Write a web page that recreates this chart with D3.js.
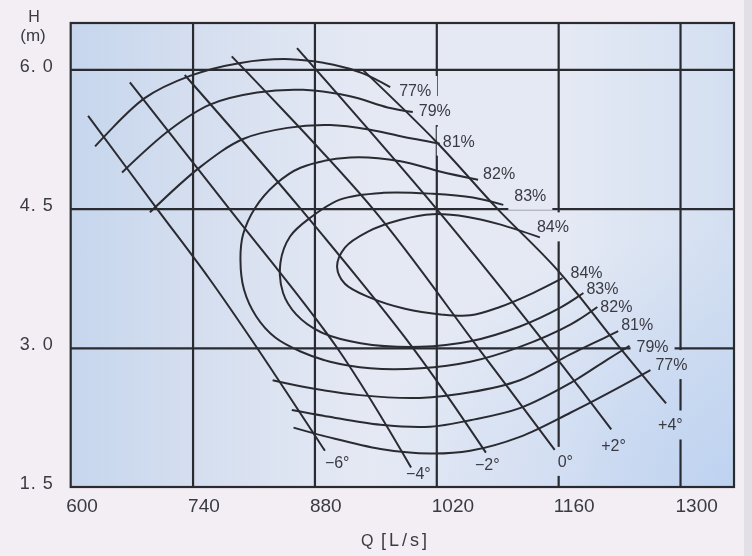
<!DOCTYPE html>
<html>
<head>
<meta charset="utf-8">
<script src="https://cdn.jsdelivr.net/npm/d3@7"></script>
<style>
    body { margin: 0; background: #f2eef4; }
    svg { display: block; font-family: "Liberation Sans", Arial, sans-serif; }
</style>
</head>
<body>
<svg id="chart" width="752" height="556"></svg>
<script>
// ---- values ----
var qTicks = [600, 740, 880, 1020, 1160, 1300];
var hTicks = [1.5, 3.0, 4.5, 6.0];
var hTickLabels = ["1. 5", "3. 0", "4. 5", "6. 0"];

// blade angle lines, Q [L/s] and H [m] along each line (top -> bottom)
var bladeLabels = ["−6°", "−4°", "−2°", "0°", "+2°", "+4°"];
var bladeQ = [
    [620, 699, 758, 814, 892],
    [668, 782, 906, 991],
    [731, 864, 993, 1077],
    [785, 947, 1068, 1156],
    [860, 1020, 1149, 1221],
    [935, 1021, 1090, 1159, 1231, 1284]
];
var bladeH = [
    [5.50, 4.50, 3.76, 3.00, 1.89],
    [5.86, 4.50, 3.00, 1.71],
    [5.94, 4.50, 3.00, 1.87],
    [6.14, 4.50, 3.00, 1.90],
    [6.23, 4.50, 3.00, 2.12],
    [6.00, 5.21, 4.50, 3.84, 3.00, 2.40]
];

// efficiency contours; each starts at its upper right end and finishes at its lower right end
var effLabels = ["77%", "79%", "81%", "82%", "83%", "84%"];
var effQ = [
    [[967, 935, 902, 852, 795, 737, 685, 628], [856, 895, 956, 1013, 1059, 1116, 1174, 1231, 1266]],
    [[993, 964, 921, 867, 814, 760, 714, 659], [854, 895, 956, 1013, 1059, 1116, 1174, 1216, 1242]],
    [[1024, 979, 944, 898, 849, 798, 749, 691], [832, 867, 932, 1001, 1059, 1116, 1174, 1216, 1229]],
    [[1068, 1024, 979, 921, 864, 835, 812, 798, 795, 799, 813, 835, 864, 898, 944, 1002, 1059, 1116, 1174, 1205]],
    [[1097, 1062, 1016, 959, 910, 875, 852, 841, 844, 859, 887, 933, 1002, 1059, 1116, 1162, 1189]],
    [[1139, 1093, 1056, 1016, 979, 941, 915, 906, 915, 944, 984, 1025, 1059, 1093, 1131, 1165]]
];
var effH = [
    [[5.81, 5.96, 6.05, 6.11, 6.07, 5.93, 5.69, 5.17], [2.14, 2.04, 1.91, 1.86, 1.89, 2.04, 2.30, 2.58, 2.76]],
    [[5.54, 5.59, 5.71, 5.78, 5.75, 5.62, 5.35, 4.89], [2.33, 2.26, 2.17, 2.15, 2.22, 2.35, 2.62, 2.87, 3.02]],
    [[5.20, 5.28, 5.35, 5.40, 5.37, 5.25, 4.95, 4.46], [2.65, 2.58, 2.49, 2.46, 2.52, 2.65, 2.93, 3.12, 3.18]],
    [[4.81, 4.90, 5.01, 5.05, 4.94, 4.76, 4.51, 4.22, 3.95, 3.63, 3.34, 3.11, 2.96, 2.85, 2.78, 2.78, 2.85, 3.01, 3.25, 3.44]],
    [[4.54, 4.62, 4.66, 4.67, 4.60, 4.40, 4.20, 3.92, 3.59, 3.36, 3.17, 3.05, 3.01, 3.07, 3.23, 3.43, 3.59]],
    [[4.19, 4.33, 4.41, 4.44, 4.38, 4.25, 4.08, 3.87, 3.69, 3.54, 3.42, 3.36, 3.35, 3.44, 3.59, 3.75]]
];

// label nudges in px (layout only)
var effUpperOff = [[9, 9], [6, 4], [3, 3], [5, -1], [11, -4], [-3, -5]];
var effLowerOff = [[5, 0], [7, 6], [3, -1], [3, 5], [3, 1], [8, 0]];
var bladeOff = [[0, 17], [-5, 11], [-11, 17], [3, 17], [-10, 22], [-8, 27]];

// ---- layout ----
var plotL = 70.7, plotR = 734, plotT = 23, plotB = 487;
var ink = "#2a2a31", textInk = "#3a3a42";

var svg = d3.select("#chart");

var x = d3.scaleLinear().domain([600, 1362]).range([plotL, plotR]);
var y = d3.scaleLinear().domain([1.5, 6.5]).range([plotB, plotT]);

var defs = svg.append("defs");
var lg = defs.append("linearGradient").attr("id", "plotBg")
    .attr("x1", 0).attr("y1", 0).attr("x2", 1).attr("y2", 0);
[[0, "#c6d6ed"], [0.18, "#d4deef"], [0.45, "#e5e9f4"], [0.75, "#e4e9f4"], [1, "#d3dff1"]].forEach(function(s) {
    lg.append("stop").attr("offset", s[0]).attr("stop-color", s[1]);
});
var rg = defs.append("radialGradient").attr("id", "plotGlow")
    .attr("cx", 1).attr("cy", 1).attr("r", 0.55);
rg.append("stop").attr("offset", 0).attr("stop-color", "#b9cff0").attr("stop-opacity", 0.8);
rg.append("stop").attr("offset", 1).attr("stop-color", "#b9cff0").attr("stop-opacity", 0);

// page edge on the far right
svg.append("rect").attr("x", 744).attr("y", 0).attr("width", 8).attr("height", 556).attr("fill", "#e2e0e6");

svg.append("rect").attr("x", plotL).attr("y", plotT).attr("width", plotR - plotL).attr("height", plotB - plotT)
    .attr("fill", "url(#plotBg)");
svg.append("rect").attr("x", plotL).attr("y", plotT).attr("width", plotR - plotL).attr("height", plotB - plotT)
    .attr("fill", "url(#plotGlow)");

// grid, masked around the curve labels
var mask = defs.append("mask").attr("id", "gridMask").attr("maskUnits", "userSpaceOnUse")
    .attr("x", 0).attr("y", 0).attr("width", 752).attr("height", 556);
mask.append("rect").attr("width", 752).attr("height", 556).attr("fill", "white");

var grid = svg.append("g").attr("mask", "url(#gridMask)");
grid.append("g")
    .attr("transform", "translate(0," + plotB + ")")
    .call(d3.axisBottom(x).tickValues(qTicks.slice(1)).tickSize(-(plotB - plotT)).tickFormat(""));
grid.append("g")
    .attr("transform", "translate(" + plotL + ",0)")
    .call(d3.axisLeft(y).tickValues(hTicks.slice(1)).tickSize(-(plotR - plotL)).tickFormat(""));
grid.selectAll(".domain").remove();
grid.selectAll("line").attr("stroke", ink).attr("stroke-width", 2.2);

svg.append("rect").attr("x", plotL).attr("y", plotT).attr("width", plotR - plotL).attr("height", plotB - plotT)
    .attr("fill", "none").attr("stroke", ink).attr("stroke-width", 2.2);

// curves
var line = d3.line()
    .x(function(d) { return x(d[0]); })
    .y(function(d) { return y(d[1]); })
    .curve(d3.curveCatmullRom.alpha(0.5));

function zipPts(qs, hs) {
    return qs.map(function(q, i) { return [q, hs[i]]; });
}

var curves = svg.append("g").attr("fill", "none").attr("stroke", ink).attr("stroke-width", 2);

bladeQ.forEach(function(qs, i) {
    curves.append("path").attr("d", line(zipPts(qs, bladeH[i])));
});
effQ.forEach(function(branches, i) {
    branches.forEach(function(qs, j) {
        curves.append("path").attr("d", line(zipPts(qs, effH[i][j])));
    });
});

// labels on the curves
var labels = svg.append("g").attr("fill", textInk).attr("font-size", 16);

effLabels.forEach(function(txt, i) {
    var br = effQ[i], bh = effH[i];
    var up = [br[0][0], bh[0][0]];
    var lastQ = br[br.length - 1], lastH = bh[bh.length - 1];
    var lo = [lastQ[lastQ.length - 1], lastH[lastH.length - 1]];
    labels.append("text").attr("class", "eff")
        .attr("x", x(up[0]) + effUpperOff[i][0])
        .attr("y", y(up[1]) + effUpperOff[i][1])
        .text(txt);
    labels.append("text").attr("class", "eff")
        .attr("x", x(lo[0]) + effLowerOff[i][0])
        .attr("y", y(lo[1]) + effLowerOff[i][1])
        .text(txt);
});

bladeLabels.forEach(function(txt, i) {
    var n = bladeQ[i].length - 1;
    labels.append("text").attr("class", "blade")
        .attr("x", x(bladeQ[i][n]) + bladeOff[i][0])
        .attr("y", y(bladeH[i][n]) + bladeOff[i][1])
        .text(txt);
});

// cut the grid where the labels sit
labels.selectAll("text").each(function() {
    var b = this.getBBox();
    var padX = this.getAttribute("class") === "blade" ? 2 : 6;
    mask.append("rect")
        .attr("x", b.x - padX).attr("y", b.y - 6)
        .attr("width", b.width + 2 * padX).attr("height", b.height + 12)
        .attr("fill", "black");
});

// axes text
var yAxis = svg.append("g")
    .attr("transform", "translate(" + plotL + ",0)")
    .call(d3.axisLeft(y).tickValues(hTicks).tickFormat(function(d, i) { return hTickLabels[i]; })
        .tickSize(0).tickPadding(17));
yAxis.select(".domain").remove();
yAxis.selectAll("text")
    .attr("font-family", "Liberation Sans, Arial, sans-serif")
    .attr("font-size", 18).attr("letter-spacing", 1)
    .attr("fill", textInk).attr("y", -4);

var xAxis = svg.append("g")
    .attr("transform", "translate(0," + plotB + ")")
    .call(d3.axisBottom(x).tickValues(qTicks).tickFormat(d3.format("d")).tickSize(0).tickPadding(12));
xAxis.select(".domain").remove();
xAxis.selectAll("text")
    .attr("font-family", "Liberation Sans, Arial, sans-serif")
    .attr("font-size", 19).attr("fill", textInk)
    .attr("text-anchor", "start").attr("x", -5);

// axis titles
svg.append("text").attr("x", 34).attr("y", 22).attr("text-anchor", "middle")
    .attr("font-size", 16).attr("fill", textInk).text("H");
svg.append("text").attr("x", 33).attr("y", 41).attr("text-anchor", "middle")
    .attr("font-size", 17).attr("fill", textInk).text("(m)");

svg.append("text").attr("x", 361).attr("y", 546)
    .attr("font-size", 16).attr("fill", textInk).text("Q");
svg.append("text").attr("x", 381).attr("y", 546)
    .attr("font-size", 18).attr("letter-spacing", 3).attr("fill", textInk).text("[L/s]");
</script>
</body>
</html>
